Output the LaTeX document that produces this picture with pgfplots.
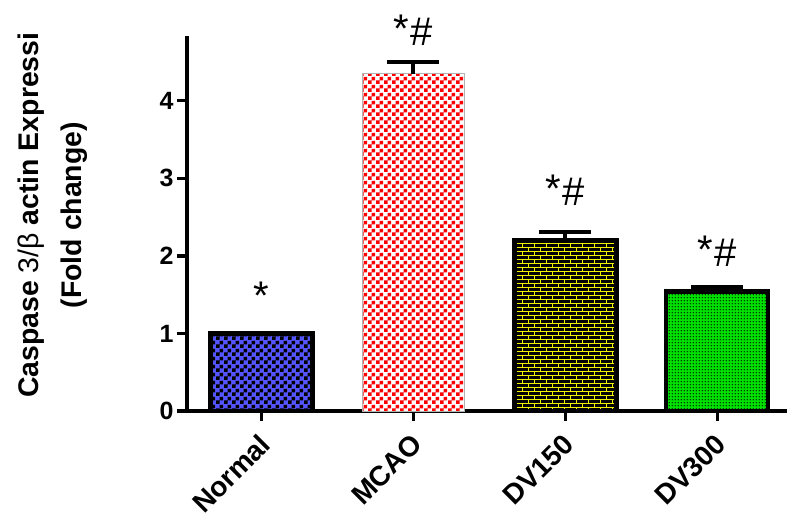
\documentclass[border=0pt]{standalone}
\usepackage{pgfplots}
\pgfplotsset{compat=1.18}
\usepackage{fontspec}
\setmainfont{Liberation Sans}
\usetikzlibrary{patterns}
\definecolor{cblue}{HTML}{5555FF}
\definecolor{cred}{HTML}{FF0000}
\definecolor{cyel}{HTML}{F0F000}
\definecolor{cgreen}{HTML}{00E000}
\pgfdeclarepatternformonly{mycheck}{\pgfpointorigin}{\pgfpoint{4pt}{4pt}}{\pgfpoint{4pt}{4pt}}{%
  \pgfpathrectangle{\pgfpointorigin}{\pgfpoint{2pt}{2pt}}%
  \pgfpathrectangle{\pgfpoint{2pt}{2pt}}{\pgfpoint{2pt}{2pt}}%
  \pgfusepath{fill}}
\pgfdeclarepatternformonly{mybricks}{\pgfpoint{-0.3pt}{-0.3pt}}{\pgfpoint{6.3pt}{4.3pt}}{\pgfpoint{6pt}{4pt}}{%
  \pgfsetlinewidth{0.45pt}%
  \pgfpathmoveto{\pgfpoint{0pt}{0pt}}\pgfpathlineto{\pgfpoint{6pt}{0pt}}%
  \pgfpathmoveto{\pgfpoint{0pt}{2pt}}\pgfpathlineto{\pgfpoint{6pt}{2pt}}%
  \pgfpathmoveto{\pgfpoint{0pt}{0pt}}\pgfpathlineto{\pgfpoint{0pt}{2pt}}%
  \pgfpathmoveto{\pgfpoint{3pt}{2pt}}\pgfpathlineto{\pgfpoint{3pt}{4pt}}%
  \pgfusepath{stroke}}
\pgfdeclarepatternformonly{mydots}{\pgfpointorigin}{\pgfpoint{1.6pt}{1.6pt}}{\pgfpoint{1.6pt}{1.6pt}}{%
  \pgfpathcircle{\pgfpoint{0.8pt}{0.8pt}}{0.42pt}%
  \pgfusepath{fill}}
\newcommand{\bigast}{\raisebox{1.5pt}{*}}
\begin{document}
\begin{tikzpicture}
\begin{axis}[
  scale only axis, width=300pt, height=186.5pt,
  xmin=-0.49, xmax=3.46, ymin=0, ymax=4.81,
  axis lines*=left,
  axis line style={line width=2pt, line cap=rect},
  every tick/.style={black, line width=1.6pt},
  tick align=outside, major tick length=5pt,
  ytick={0,1,2,3,4},
  xtick={0,1,2,3},
  xticklabels={Normal,MCAO,DV150,DV300},
  x tick label style={rotate=45, anchor=north east, font=\bfseries\fontsize{14}{16}\selectfont, inner sep=1pt, xshift=-4pt, yshift=-1.5pt},
  y tick label style={font=\bfseries\fontsize{12.5}{14}\selectfont, inner sep=1.5pt},
  /pgf/number format/assume math mode=true,
  ybar, bar width=51pt, bar shift=0pt,
  clip=false,
  ylabel={\bfseries Caspase \mdseries 3/β \bfseries actin Expressi\\[4.5pt]\bfseries (Fold change)},
  ylabel style={at={(axis description cs:-0.223,0.525)}, anchor=center, align=center, font=\fontsize{14.2}{17}\selectfont},
  error bars/y dir=plus, error bars/y explicit,
  error bars/error bar style={line width=2pt, black},
  error bars/error mark options={rotate=90, mark size=13pt, line width=2.2pt, black},
]
\addplot[draw=black, line width=2.3pt, fill=cblue, postaction={pattern=mycheck, pattern color=black}]
  coordinates {(0,1.0) +- (0,0.0)};
\addplot[draw=gray!60, line width=0.5pt, fill=white, postaction={pattern=mycheck, pattern color=cred}]
  coordinates {(1,4.35) +- (0,0.15)};
\addplot[draw=black, line width=2.3pt, fill=black, postaction={pattern=mybricks, pattern color=cyel}]
  coordinates {(2,2.20) +- (0,0.11)};
\addplot[draw=black, line width=2.3pt, fill=cgreen, postaction={pattern=mydots, pattern color=black}]
  coordinates {(3,1.54) +- (0,0.06)};
\node[anchor=base, font=\fontsize{20}{22}\selectfont] at (axis cs:0,1.27) {\bigast};
\node[anchor=base, font=\fontsize{20}{22}\selectfont] at (axis cs:1,4.71) {\bigast\kern0.5pt\#};
\node[anchor=base, font=\fontsize{20}{22}\selectfont] at (axis cs:2,2.65) {\bigast\kern0.5pt\#};
\node[anchor=base, font=\fontsize{20}{22}\selectfont] at (axis cs:3,1.86) {\bigast\kern0.5pt\#};
\end{axis}
\pgfresetboundingbox
\path ([shift={(-93.5pt,-52pt)}]current axis.south west) rectangle ([shift={(0pt,19pt)}]current axis.north east);
\end{tikzpicture}
\end{document}
